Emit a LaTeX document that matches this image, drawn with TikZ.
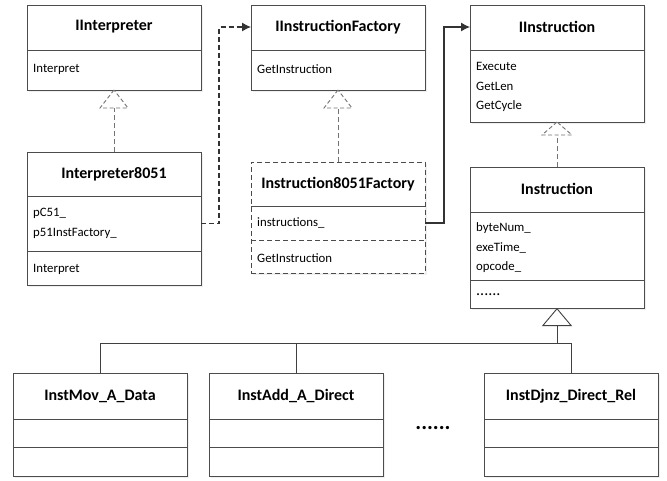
\documentclass[tikz,border=0pt]{standalone}
\usepackage{fontspec}
\setmainfont{Carlito}
\usetikzlibrary{arrows.meta,shadows}

\tikzset{
  classbox/.style={draw=black!70,line width=0.8pt,fill=white,anchor=north west,minimum width=174pt,inner sep=0,outer sep=0,
    drop shadow={shadow xshift=2pt,shadow yshift=-2pt,fill=black!12}},
  classname/.style={font=\fontsize{16}{18}\selectfont\bfseries,inner sep=0},
  member/.style={font=\fontsize{12.8}{19.5}\selectfont,align=left,anchor=west,inner sep=0},
  sep/.style={draw=black!70,line width=0.8pt},
  dashy/.style={dash pattern=on 5pt off 3pt},
  assoc/.style={draw=black!80,line width=1.1pt,-{Latex[length=9pt,width=9pt]}},
  realize/.style={draw=black!55,line width=0.9pt,dashy},
  realtri/.style={draw=black!55,line width=0.9pt,fill=white,dash pattern=on 4pt off 2.5pt},
  inherit/.style={draw=black!75,line width=0.9pt,-{Triangle[open,length=18pt,width=30pt,fill=white]}},
  branch/.style={draw=black!75,line width=0.9pt}
}

\begin{document}
\begin{tikzpicture}[x=1pt,y=-1pt]
\useasboundingbox (0,0) rectangle (667,480);

% interfaces
\node[classbox,minimum height=85pt] (IINT) at (27,5) {};
\draw[sep] (IINT.west |- 0,50) -- (IINT.east |- 0,50);
\node[classname] (IINTn) at (114,27) {IInterpreter};
\node[member] (IINTm) at (33,69) {Interpret};

\node[classbox,minimum height=85pt] (IFAC) at (251,5) {};
\draw[sep] (IFAC.west |- 0,50) -- (IFAC.east |- 0,50);
\node[classname] (IFACn) at (338,27) {IInstructionFactory};
\node[member] (IFACm) at (257,69) {GetInstruction};

\node[classbox,minimum height=117pt] (IINS) at (470,5) {};
\draw[sep] (IINS.west |- 0,50) -- (IINS.east |- 0,50);
\node[classname] (IINSn) at (557,27) {IInstruction};
\node[member] (IINSm) at (476,87) {Execute\\GetLen\\GetCycle};

% implementations
\node[classbox,minimum height=133pt] (INT51) at (27,152) {};
\draw[sep] (INT51.west |- 0,196) -- (INT51.east |- 0,196);
\draw[sep] (INT51.west |- 0,251) -- (INT51.east |- 0,251);
\node[classname] (INT51n) at (114,174) {Interpreter8051};
\node[member] (INT51a) at (33,223.5) {pC51\_\\p51InstFactory\_};
\node[member] (INT51m) at (33,269) {Interpret};

\node[classbox,minimum height=111pt,dashy] (FAC51) at (251,162) {};
\draw[sep] (FAC51.west |- 0,206) -- (FAC51.east |- 0,206);
\draw[sep,dashy] (FAC51.west |- 0,240) -- (FAC51.east |- 0,240);
\node[classname] (FAC51n) at (338,184) {Instruction8051Factory};
\node[member] (FAC51a) at (257,223) {instructions\_};
\node[member] (FAC51m) at (257,258) {GetInstruction};

\node[classbox,minimum height=141pt] (INS) at (470,167) {};
\draw[sep] (INS.west |- 0,212) -- (INS.east |- 0,212);
\draw[sep] (INS.west |- 0,280) -- (INS.east |- 0,280);
\node[classname] (INSn) at (557,189) {Instruction};
\node[member] (INSa) at (476,248) {byteNum\_\\exeTime\_\\opcode\_};
\node[member,font=\fontsize{16}{19.5}\selectfont] (INSm) at (476,295) {......};

% concrete instructions
\node[classbox,minimum height=103pt] (MOV) at (13,373) {};
\draw[sep] (MOV.west |- 0,419) -- (MOV.east |- 0,419);
\draw[sep] (MOV.west |- 0,447) -- (MOV.east |- 0,447);
\node[classname] (MOVn) at (100,396) {InstMov\_A\_Data};

\node[classbox,minimum height=103pt] (ADD) at (209,373) {};
\draw[sep] (ADD.west |- 0,419) -- (ADD.east |- 0,419);
\draw[sep] (ADD.west |- 0,447) -- (ADD.east |- 0,447);
\node[classname] (ADDn) at (296,396) {InstAdd\_A\_Direct};

\node[classbox,minimum height=103pt] (DJNZ) at (484,373) {};
\draw[sep] (DJNZ.west |- 0,419) -- (DJNZ.east |- 0,419);
\draw[sep] (DJNZ.west |- 0,447) -- (DJNZ.east |- 0,447);
\node[classname] (DJNZn) at (571,396) {InstDjnz\_Direct\_Rel};

\node[font=\fontsize{22}{22}\selectfont\bfseries,inner sep=0] (MORE) at (433,428) {......};

% realization
\draw[realize] (INT51.north) -- ([yshift=-18pt]IINT.south);
\draw[realtri] (IINT.south) -- ++(-14,18) -- ++(28,0) -- cycle;
\draw[realize] (FAC51.north) -- ([yshift=-18pt]IFAC.south);
\draw[realtri] (IFAC.south) -- ++(-14,18) -- ++(28,0) -- cycle;
\draw[realize] (INS.north) -- ([yshift=-13pt]IINS.south);
\draw[realtri] (IINS.south) -- ++(-15,13) -- ++(30,0) -- cycle;

% associations
\draw[assoc,dashy] (INT51.east |- INT51a) -- ++(18,0) |- (IFAC.west |- IFACn);
\draw[assoc] (FAC51.east |- FAC51a) -- ++(19,0) |- (IINS.west |- IINSn);

% inheritance
\coordinate (JOIN) at (557,343);
\draw[inherit] (JOIN) -- (INS.south);
\draw[branch] (MOV.north) |- (JOIN);
\draw[branch] (ADD.north) |- (JOIN);
\draw[branch] (DJNZ.north) |- (JOIN);
\end{tikzpicture}
\end{document}
